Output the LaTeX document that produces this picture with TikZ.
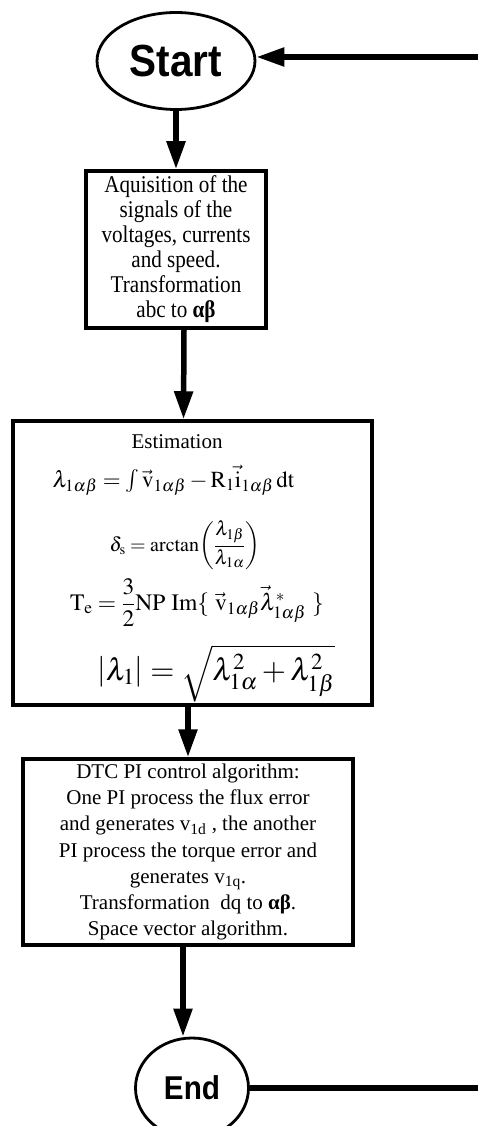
\documentclass[tikz,border=0pt]{standalone}
\usepackage{amsmath}
\usepackage{mathptmx}
\usepackage{fontspec}
\setmainfont{Liberation Serif}
\newfontfamily\headsans[FakeStretch=0.9]{Liberation Sans}
\newfontfamily\narrowserif[FakeStretch=0.88]{Liberation Serif}
\usetikzlibrary{arrows.meta,shapes.geometric}

\begin{document}
\begin{tikzpicture}[x=1pt,y=-1pt,>={Triangle[length=28pt,width=18pt]},
  terminal/.style={ellipse,draw,line width=2.8pt,inner sep=0pt,font=\headsans\bfseries},
  stepbox/.style={rectangle,draw,line width=3.5pt,inner sep=0pt,align=center},
  flow/.style={->,line width=5.5pt}]
\useasboundingbox (0,0) rectangle (478,1126);
% terminals
\node[terminal,minimum width=158pt,minimum height=97pt,font=\headsans\bfseries\fontsize{45}{45}\selectfont] (start) at (176,61) {Start};
\node[terminal,minimum width=113pt,minimum height=100pt,font=\headsans\bfseries\fontsize{33}{33}\selectfont] (end) at (192,1088) {End};
% steps
\node[stepbox,minimum width=180pt,minimum height=157pt,font=\narrowserif\fontsize{24}{25}\selectfont] (acq) at (176,249.5)
  {Aquisition of the\\signals of the\\voltages, currents\\and speed.\\Transformation\\abc to \textbf{αβ}};
\node[stepbox,minimum width=359pt,minimum height=284pt] (est) at (192.5,563) {};
\node[stepbox,minimum width=330pt,minimum height=186pt,font=\fontsize{21}{26.3}\selectfont] (dtc) at (188,852)
  {DTC PI control algorithm:\\One PI process the flux error\\and generates v\textsubscript{1d} , the another\\PI process the torque error and\\generates v\textsubscript{1q}.\\Transformation\ \ dq to \textbf{αβ}.\\Space vector algorithm.};
% estimation formulas
\node[anchor=base,inner sep=0pt,font=\fontsize{21}{21}\selectfont] (esttitle) at (177,448) {Estimation};
\node[anchor=base,inner sep=0pt,font=\fontsize{23}{23}\selectfont] (estflux) at (173.5,487)
  {$\lambda_{1\alpha\beta} = \textstyle\int \vec{\mathrm{v}}_{1\alpha\beta} - \mathrm{R}_1\vec{\mathrm{i}}_{1\alpha\beta}\,\mathrm{dt}$};
\node[anchor=base,inner sep=0pt,font=\fontsize{20}{20}\selectfont] (estangle) at (185,551)
  {$\delta_{\mathrm{s}} = \mathrm{arctan}\!\left(\dfrac{\lambda_{1\beta}}{\lambda_{1\alpha}}\right)$};
\node[anchor=base,inner sep=0pt,font=\fontsize{23.5}{23.5}\selectfont] (esttorque) at (197,610)
  {$\mathrm{T}_{\mathrm{e}} = \dfrac{3}{2}\mathrm{NP}\ \mathrm{Im}\{\ \vec{\mathrm{v}}_{1\alpha\beta}\vec{\lambda}^{*}_{1\alpha\beta}\ \}$};
\node[anchor=base,inner sep=0pt,font=\fontsize{31}{31}\selectfont] (estmag) at (216,680)
  {$\left|\lambda_1\right| = \sqrt{\lambda_{1\alpha}^2 + \lambda_{1\beta}^2}$};
% connectors
\coordinate (loopin) at (478,57);
\coordinate (loopout) at (478,1088);
\draw[flow] (loopin) -- (loopin -| start.east);
\draw[flow] (start) -- (acq);
\draw[flow] ([xshift=8pt]acq.south) -- ([xshift=-9pt]est.north);
\draw[flow] ([xshift=-4.5pt]est.south) -- (dtc.north);
\draw[flow] ([xshift=-5pt]dtc.south) -- ([xshift=-9pt]end.north);
\draw[line width=5.5pt] (end.east) -- (loopout);
\end{tikzpicture}
\end{document}
